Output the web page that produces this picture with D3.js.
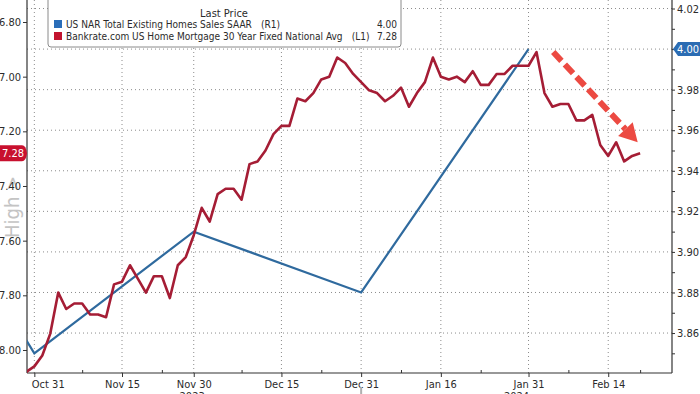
<!DOCTYPE html>
<html><head><meta charset="utf-8">
<script src="https://cdn.jsdelivr.net/npm/d3@7"></script>
<style>
body{margin:0;background:#fff;}
svg{display:block;}
text{font-family:"DejaVu Sans Condensed","DejaVu Sans",sans-serif;font-stretch:condensed;}
</style>
</head><body><svg id="c" width="700" height="394"></svg>
<script>
// ---------------- data ----------------
// Bankrate 30Y mortgage rate, one value per trading day, starting at trading-day index -1 (Oct 30)
const rateStart = -1;
const rateValues = [
  8.08, 8.06, 8.02, 7.94, 7.79, 7.85, 7.83, 7.83, 7.87, 7.87,
  7.88, 7.76, 7.75, 7.69, 7.74, 7.79, 7.73, 7.73, 7.81, 7.69,
  7.66, 7.58, 7.48, 7.53, 7.43, 7.41, 7.41, 7.45, 7.32, 7.31,
  7.27, 7.21, 7.18, 7.18, 7.08, 7.09, 7.06, 7.01, 7.00, 6.93,
  6.95, 6.99, 7.02, 7.05, 7.06, 7.09, 7.07, 7.04, 7.11, 7.06,
  7.02, 6.93, 7.00, 7.01, 7.00, 7.02, 6.98, 7.03, 7.03, 6.99,
  6.99, 6.96, 6.96, 6.96, 6.91, 7.06, 7.11, 7.10, 7.10, 7.16,
  7.16, 7.14, 7.25, 7.29, 7.24, 7.31, 7.29, 7.28
];
// NAR existing home sales (millions, SAAR), monthly, at trading-day index of month end
const salesIdx = [-22, 0, 20, 41, 62];
const salesValues = [3.99, 3.85, 3.91, 3.88, 4.00];

const xTickIdx = [0, 11, 20, 31, 41, 51, 62, 72];
const xTickLabels = ["Oct 31", "Nov 15", "Nov 30", "Dec 15", "Dec 31", "Jan 16", "Jan 31", "Feb 14"];
const xMinorIdx = [6, 16, 26, 36, 46, 56, 67, 76];
const yearIdx = [19.8, 60.5];
const yearLabels = ["2023", "2024"];
const yearBreakIdx = [41];

const leftTicks = [6.80, 7.00, 7.20, 7.40, 7.60, 7.80, 8.00];
const rightTicks = [3.86, 3.88, 3.90, 3.92, 3.94, 3.96, 3.98, 4.00, 4.02];
const rightMinor = [3.85, 3.87, 3.89, 3.91, 3.93, 3.95, 3.97, 3.99, 4.01];

const legendTitle = "Last Price";
const seriesNames = ["US NAR Total Existing Homes Sales SAAR",
                     "Bankrate.com US Home Mortgage 30 Year Fixed National Avg"];
const seriesAxes = ["(R1)", "(L1)"];
const lastValues = ["4.00", "7.28"];
const lastRate = 7.28, lastSales = 4.00;
// trend arrow (trading-day index, mortgage rate)
const arrowFrom = [65.1, 6.91];
const arrowTo = [75.7, 7.24];

// ---------------- layout ----------------
const W = 700, H = 394;
const P = {l: 27, r: 672, t: 0, b: 373};
const cBlue = "#2f6a9e", cRed = "#a51d35", cGrid = "#8c8c8c", cText = "#2b2b2b";

const svg = d3.select("#c");
const x = d3.scaleLinear().domain([-0.92, 80]).range([P.l, P.r]);
const yL = d3.scaleLinear().domain([6.7195, 8.0842]).range([P.t, P.b]);
const yR = d3.scaleLinear().domain([4.0242, 3.8403]).range([P.t, P.b]);

svg.append("defs").append("clipPath").attr("id", "plot")
  .append("rect").attr("x", P.l).attr("y", P.t).attr("width", P.r - P.l).attr("height", P.b - P.t);

// gridlines
const grid = svg.append("g");
grid.selectAll("line.h").data(rightTicks).join("line")
  .attr("x1", P.l).attr("x2", P.r).attr("y1", d => yR(d)).attr("y2", d => yR(d))
  .attr("stroke", cGrid).attr("stroke-width", 1).attr("stroke-dasharray", "1,3");
grid.selectAll("line.v").data(xTickIdx).join("line")
  .attr("x1", d => x(d)).attr("x2", d => x(d)).attr("y1", P.t).attr("y2", P.b)
  .attr("stroke", cGrid).attr("stroke-width", 1).attr("stroke-dasharray", "1,3");

// watermark
svg.append("text").attr("transform", `translate(19,238) rotate(-90)`)
  .attr("font-size", 20).attr("fill", "#c4c4c4").text("High >");

// axes
const fmt = d3.format(".2f");
const axL = svg.append("g").attr("transform", `translate(${P.l},0)`)
  .call(d3.axisLeft(yL).tickValues(leftTicks).tickFormat(fmt).tickSize(4).tickPadding(2));
const axR = svg.append("g").attr("transform", `translate(${P.r},0)`)
  .call(d3.axisRight(yR).tickValues(rightTicks).tickFormat(fmt).tickSize(3).tickPadding(2));
svg.append("g").attr("transform", `translate(${P.r},0)`)
  .call(d3.axisRight(yR).tickValues(rightMinor).tickFormat("").tickSize(3))
  .select(".domain").remove();
const axB = svg.append("g").attr("transform", `translate(0,${P.b})`)
  .call(d3.axisBottom(x).tickValues(xTickIdx).tickFormat((d, i) => xTickLabels[i]).tickSize(4).tickPadding(3));
svg.append("g").attr("transform", `translate(0,${P.b})`)
  .call(d3.axisTop(x).tickValues(xMinorIdx).tickFormat("").tickSize(3))
  .select(".domain").remove();

svg.selectAll(".domain").attr("stroke", "#333").attr("stroke-width", 1.2);
svg.selectAll(".tick line").attr("stroke", "#333");
svg.selectAll(".tick text").attr("fill", cText).attr("font-size", 11)
  .style("font-family", '"DejaVu Sans Condensed","DejaVu Sans",sans-serif');
axL.select(".domain").attr("d", `M0,${P.t}V${P.b}`);
axR.select(".domain").attr("d", `M0,${P.t}V${P.b}`);
axB.select(".domain").attr("d", `M${P.l},0H${P.r}`);
// first date label sits to the right of its tick
axB.selectAll(".tick text").filter((d, i) => i === 0).attr("text-anchor", "start").attr("dx", -3);

// year labels (cut by the bottom edge, as in the reference) and year break
svg.selectAll("text.year").data(yearIdx).join("text").attr("class", "year")
  .attr("x", d => x(d)).attr("y", 400).attr("text-anchor", "middle")
  .attr("font-size", 11).attr("fill", cText).text((d, i) => yearLabels[i]);
svg.selectAll("line.yb").data(yearBreakIdx).join("line")
  .attr("x1", d => x(d)).attr("x2", d => x(d)).attr("y1", 387).attr("y2", H)
  .attr("stroke", "#b0b0b0").attr("stroke-width", 2);

// series
const plot = svg.append("g").attr("clip-path", "url(#plot)");
plot.append("path").datum(salesValues.map((v, i) => [salesIdx[i], v]))
  .attr("fill", "none").attr("stroke", cBlue).attr("stroke-width", 2.2)
  .attr("d", d3.line().x(d => x(d[0])).y(d => yR(d[1])));
plot.append("path").datum(rateValues.map((v, i) => [rateStart + i, v]))
  .attr("fill", "none").attr("stroke", cRed).attr("stroke-width", 2.6).attr("stroke-linejoin", "round")
  .attr("d", d3.line().x(d => x(d[0])).y(d => yL(d[1])));

// trend arrow
{
  const x0 = x(arrowFrom[0]), y0 = yL(arrowFrom[1]);
  const x1 = x(arrowTo[0]), y1 = yL(arrowTo[1]);
  const dx = x1 - x0, dy = y1 - y0, len = Math.hypot(dx, dy);
  const ux = dx / len, uy = dy / len, nx = -uy, ny = ux;
  const head = 18, hw = 10;
  const bx = x1 - ux * head, by = y1 - uy * head;
  svg.append("line").attr("x1", x0).attr("y1", y0).attr("x2", bx).attr("y2", by)
    .attr("stroke", "#ec4a42").attr("stroke-width", 6).attr("stroke-dasharray", "12,5");
  svg.append("path").attr("fill", "#ec4a42")
    .attr("d", `M${x1},${y1}L${bx + nx * hw},${by + ny * hw}L${bx - nx * hw},${by - ny * hw}Z`);
}

// legend
const lg = svg.append("g");
lg.append("rect").attr("x", 48).attr("y", -6).attr("width", 353).attr("height", 53).attr("rx", 3)
  .attr("fill", "#fff").attr("stroke", "#8a8a8a");
lg.append("text").attr("x", 224).attr("y", 16.5).attr("text-anchor", "middle")
  .attr("font-size", 11).attr("fill", cText).text(legendTitle);
// fit legend font so the long series name spans its width in the reference
const probe = lg.append("text").attr("font-size", 11).text(seriesNames[1]);
const legFs = Math.min(11.5, 11 * 277 / probe.node().getComputedTextLength());
probe.remove();
const rows = [{c: "#2a6db8", y: 24}, {c: "#c2142e", y: 36}];
rows.forEach((r, i) => {
  lg.append("rect").attr("x", 54).attr("y", r.y - 4).attr("width", 8).attr("height", 8).attr("fill", r.c);
  const t = lg.append("text").attr("x", 66).attr("y", r.y + 4).attr("font-size", legFs).attr("fill", cText)
    .text(seriesNames[i]);
  const w = t.node().getComputedTextLength();
  lg.append("text").attr("x", 66 + w + legFs * 0.9).attr("y", r.y + 4).attr("font-size", legFs)
    .attr("fill", cText).text(seriesAxes[i]);
  lg.append("text").attr("x", 397).attr("y", r.y + 4).attr("text-anchor", "end")
    .attr("font-size", legFs).attr("fill", cText).text(lastValues[i]);
});

// last-price badges
{
  const yb = yL(lastRate);
  svg.append("path").attr("fill", "#c8102e")
    .attr("d", `M0,${yb - 8}H22Q26,${yb - 8} 27,${yb}Q26,${yb + 8} 22,${yb + 8}H0Z`);
  svg.append("text").attr("x", 13).attr("y", yb + 4).attr("text-anchor", "middle")
    .attr("font-size", 11).attr("fill", "#fff").text(fmt(lastRate));
  const yr = yR(lastSales);
  svg.append("path").attr("fill", "#2b6cb3")
    .attr("d", `M${P.r + 1},${yr}L${P.r + 6},${yr - 7}H${W}V${yr + 7}H${P.r + 6}Z`);
  svg.append("text").attr("x", 688).attr("y", yr + 4).attr("text-anchor", "middle")
    .attr("font-size", 11).attr("fill", "#fff").text(fmt(lastSales));
}
</script></body></html>
